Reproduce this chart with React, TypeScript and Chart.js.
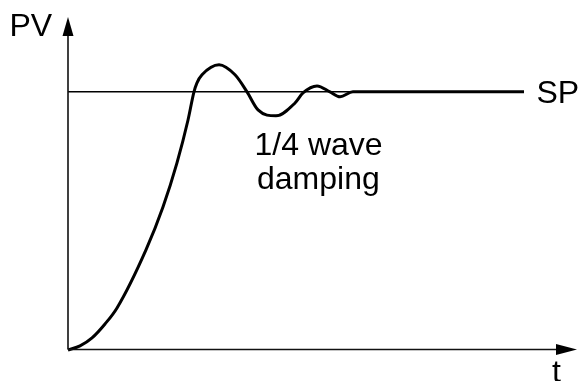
import React, { useEffect, useRef } from "react";
import { Chart, registerables } from "chart.js";

Chart.register(...registerables);

// Process variable response (t in arbitrary time units, PV relative to set point = 1)
const tValues = [0, 2.36, 4.72, 7.27, 9.63, 15.32, 18.66, 21.41, 23.58, 24.75, 25.34, 26.33, 29.67, 32.81, 35.17, 37.33, 40.86, 44.6, 46.17, 48.92, 51.47, 53.44, 55.99, 89.59];
const pvValues = [0, 0.016, 0.047, 0.101, 0.163, 0.388, 0.554, 0.725, 0.891, 1.0, 1.035, 1.066, 1.105, 1.066, 1.0, 0.93, 0.907, 0.957, 0.996, 1.023, 1.0, 0.981, 1.0, 1.0];
const spT = [0, 89.59];
const spValues = [1, 1];

const labels = { pv: "PV", sp: "SP", t: "t", note1: "1/4 wave", note2: "damping" };

const FONT = '32px "Liberation Sans", Arial, Helvetica, sans-serif';

const decorPlugin = {
  id: "decor",
  afterDraw(chart: any) {
    const { ctx, chartArea } = chart;
    const { left, right, top, bottom } = chartArea;
    ctx.save();
    // axes
    ctx.strokeStyle = "#111";
    ctx.lineWidth = 1.6;
    ctx.beginPath();
    ctx.moveTo(left, bottom - 0.5);
    ctx.lineTo(right - 18, bottom - 0.5);
    ctx.moveTo(left, bottom - 0.5);
    ctx.lineTo(left, top + 16);
    ctx.stroke();
    // arrows
    ctx.fillStyle = "#000";
    ctx.beginPath();
    ctx.moveTo(right, bottom - 0.5);
    ctx.lineTo(right - 21, bottom - 6);
    ctx.lineTo(right - 21, bottom + 5);
    ctx.closePath();
    ctx.fill();
    ctx.beginPath();
    ctx.moveTo(left, top);
    ctx.lineTo(left - 5.5, top + 19);
    ctx.lineTo(left + 5.5, top + 19);
    ctx.closePath();
    ctx.fill();
    // texts
    ctx.font = FONT;
    ctx.textBaseline = "alphabetic";
    ctx.textAlign = "left";
    ctx.fillStyle = "#000";
    ctx.fillText(labels.pv, 9.5, 36);
    ctx.fillText(labels.sp, 536.5, 103);
    ctx.fillText(labels.note1, 254.5, 155);
    ctx.fillText(labels.note2, 257, 189);
    ctx.fillText(labels.t, 552, 382);
    ctx.restore();
  },
};

export default function App() {
  const ref = useRef<HTMLCanvasElement | null>(null);
  useEffect(() => {
    document.body.style.margin = "0";
    const canvas = ref.current!;
    const chart = new Chart(canvas, {
      type: "line",
      data: {
        datasets: [
          {
            label: "SP",
            data: spT.map((t, i) => ({ x: t, y: spValues[i] })),
            borderColor: "#000",
            borderWidth: 1.5,
            pointRadius: 0,
            tension: 0,
            clip: false as any,
          },
          {
            label: "PV",
            data: tValues.map((t, i) => ({ x: t, y: pvValues[i] })),
            borderColor: "#000",
            borderWidth: 3,
            pointRadius: 0,
            cubicInterpolationMode: "monotone",
            clip: false as any,
          },
        ],
      },
      options: {
        responsive: false,
        animation: false,
        events: [],
        layout: { padding: { left: 68, right: 1, top: 17, bottom: 31 } },
        plugins: { legend: { display: false }, tooltip: { enabled: false }, title: { display: false } },
        scales: {
          x: { type: "linear", min: 0, max: 100, display: false },
          y: { type: "linear", min: 0, max: 1.29, display: false },
        },
      },
      plugins: [decorPlugin],
    });
    return () => chart.destroy();
  }, []);
  return (
    <div style={{ width: 578, height: 381 }}>
      <canvas ref={ref} width={578} height={381} style={{ display: "block" }} />
    </div>
  );
}
